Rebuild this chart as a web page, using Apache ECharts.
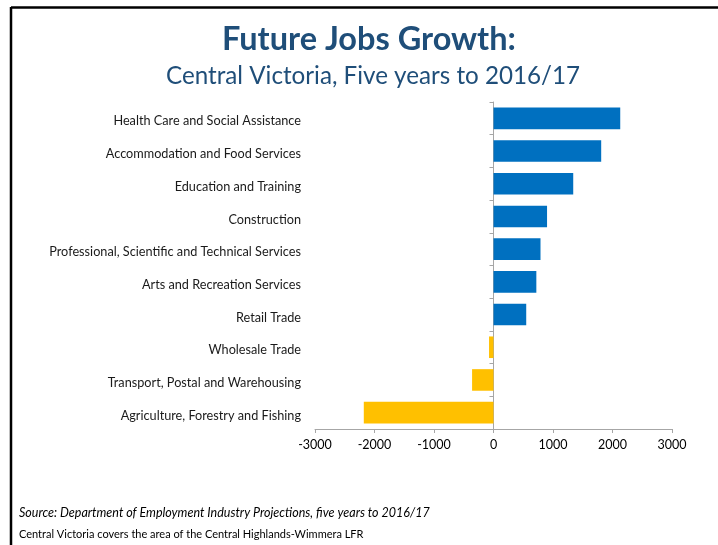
<!DOCTYPE html>
<html>
<head>
<meta charset="utf-8">
<style>
  html, body { margin: 0; padding: 0; background: #fff; }
  #chart { width: 718px; height: 545px; }
</style>
<script src="https://cdn.jsdelivr.net/npm/echarts@6/dist/echarts.min.js"></script>
</head>
<body>
<div id="chart"></div>
<script>
// Industries, top to bottom
const industries = [
  'Health Care and Social Assistance',
  'Accommodation and Food Services',
  'Education and Training',
  'Construction',
  'Professional, Scientific and Technical Services',
  'Arts and Recreation Services',
  'Retail Trade',
  'Wholesale Trade',
  'Transport, Postal and Warehousing',
  'Agriculture, Forestry and Fishing'
];
// Projected change in employment, five years to 2016/17
const jobsGrowth = [2130, 1810, 1340, 900, 790, 720, 550, -75, -360, -2180];
const axisTicks = [-3000, 3000, 1000]; // min, max, step

const FONT = 'Lato, "Open Sans", sans-serif';
const chart = echarts.init(document.getElementById('chart'), null, { renderer: 'canvas' });

chart.setOption({
  animation: false,
  backgroundColor: '#fff',
  title: [
    {
      text: 'Future Jobs Growth:',
      left: 217, top: 18,
      textStyle: { fontFamily: FONT, fontSize: 32.5, fontWeight: 'bold', color: '#1f4e79' }
    },
    {
      text: 'Central Victoria, Five years to 2016/17',
      left: 161, top: 59,
      textStyle: { fontFamily: FONT, fontSize: 24.2, fontWeight: 'normal', color: '#1f4e79' }
    }
  ],
  grid: { left: 315, right: 46, top: 102, bottom: 116, containLabel: false },
  xAxis: {
    type: 'value',
    min: axisTicks[0], max: axisTicks[1], interval: axisTicks[2],
    splitLine: { show: false },
    axisLine: { show: true, onZero: false, lineStyle: { color: '#a6a6a6', width: 1 } },
    axisTick: { show: true, length: 4, lineStyle: { color: '#a6a6a6' } },
    axisLabel: { color: '#000', fontFamily: FONT, fontSize: 12.5, margin: 9, formatter: v => String(v) }
  },
  yAxis: [
    {
      type: 'category',
      data: industries,
      inverse: true,
      axisLine: { show: false },
      axisTick: { show: false },
      axisLabel: { color: '#1a1a1a', fontFamily: FONT, fontSize: 12.7, margin: 14, lineHeight: 18, verticalAlign: 'top', padding: [-6, 0, 0, 0] }
    },
    {
      type: 'category',
      data: industries,
      inverse: true,
      position: 'left',
      axisLine: { show: true, onZero: true, onZeroAxisIndex: 0, lineStyle: { color: '#a6a6a6', width: 1 } },
      axisTick: { show: true, length: 4, lineStyle: { color: '#a6a6a6' } },
      axisLabel: { show: false }
    }
  ],
  series: [{
    type: 'bar',
    yAxisIndex: 0,
    data: jobsGrowth,
    barCategoryGap: '34%',
    itemStyle: {
      color: p => (p.value >= 0 ? '#0070c0' : '#ffc000')
    }
  }],
  graphic: [
    { type: 'line', shape: { x1: 11, y1: 7.5, x2: 718, y2: 7.5 }, style: { stroke: '#000', lineWidth: 2.5 } },
    { type: 'line', shape: { x1: 11, y1: 7, x2: 11, y2: 545 }, style: { stroke: '#000', lineWidth: 2.5 } },
    {
      type: 'text', left: 19, top: 506,
      style: { text: 'Source: Department of Employment Industry Projections, five years to 2016/17',
        font: 'italic 12.5px ' + FONT, fill: '#000' }
    },
    {
      type: 'text', left: 19, top: 529,
      style: { text: 'Central Victoria covers the area of the Central Highlands-Wimmera LFR',
        font: '11px ' + FONT, fill: '#000' }
    }
  ]
});
</script>
</body>
</html>
